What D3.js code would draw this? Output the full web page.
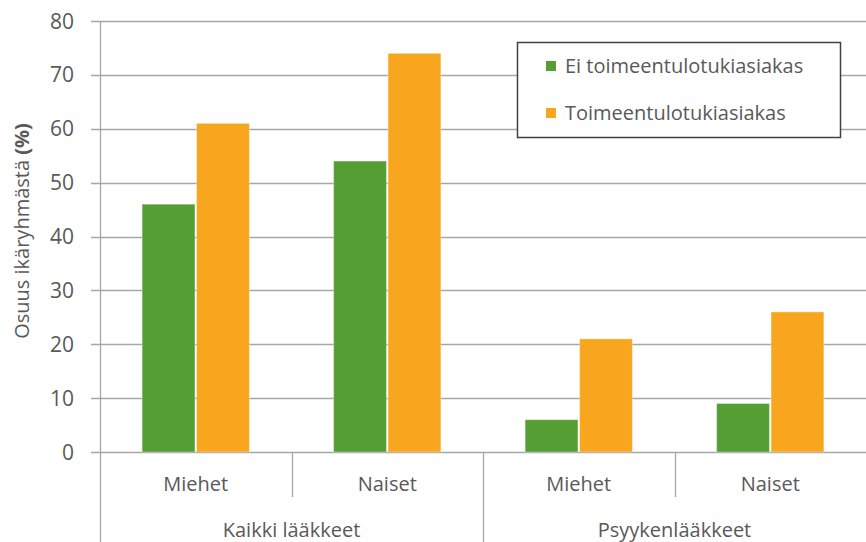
<!DOCTYPE html>
<html>
<head>
<meta charset="utf-8">
<script src="https://cdn.jsdelivr.net/npm/d3@7"></script>
<style>
  body { margin: 0; background: #fff; }
  text { font-family: "Open Sans", sans-serif; fill: #595959; }
</style>
</head>
<body>
<div id="chart"></div>
<script>
// data
var groups = ['Kaikki lääkkeet', 'Psyykenlääkkeet'];
var subgroups = ['Miehet', 'Naiset'];
var series = ['Ei toimeentulotukiasiakas', 'Toimeentulotukiasiakas'];
var eiValues = [46, 54, 6, 9];
var toimValues = [61, 74, 21, 26];
var yTicks = [0, 10, 20, 30, 40, 50, 60, 70, 80];
var colors = ['#559e34', '#f9a61f'];

var width = 866;
var height = 542;
var plotLeft = 100, plotRight = 866, plotTop = 21, plotBottom = 452;

var svg = d3.select('#chart')
  .append('svg')
  .attr('width', width)
  .attr('height', height);

// categories: group|subgroup
var cats = [];
groups.forEach(function(g) {
  subgroups.forEach(function(s) { cats.push(g + '|' + s); });
});

var rows = cats.map(function(c, i) {
  return { key: c, values: [eiValues[i], toimValues[i]] };
});

var x0 = d3.scaleBand()
  .domain(cats)
  .range([plotLeft, plotRight])
  .paddingInner(0.44)
  .paddingOuter(0.22);

var x1 = d3.scaleBand()
  .domain(series)
  .range([0, x0.bandwidth()])
  .paddingInner(0.03);

var y = d3.scaleLinear()
  .domain([0, 80])
  .range([plotBottom, plotTop]);

var step = x0.step();
var catLeft = function(c) { return plotLeft + cats.indexOf(c) * step; };

// gridlines + ticks
var grid = svg.append('g');
grid.selectAll('line')
  .data(yTicks)
  .enter()
  .append('line')
  .attr('x1', plotLeft - 9)
  .attr('x2', plotRight)
  .attr('y1', function(d) { return Math.round(y(d)) + 0.5; })
  .attr('y2', function(d) { return Math.round(y(d)) + 0.5; })
  .attr('stroke', '#a6a6a6')
  .attr('stroke-width', 1.3);

grid.selectAll('text')
  .data(yTicks)
  .enter()
  .append('text')
  .attr('x', 74)
  .attr('y', function(d) { return y(d); })
  .attr('dy', '0.36em')
  .attr('text-anchor', 'end')
  .style('font-size', '21px')
  .text(function(d) { return d; });

// y axis line
svg.append('line')
  .attr('x1', plotLeft + 0.5).attr('x2', plotLeft + 0.5)
  .attr('y1', plotTop).attr('y2', height)
  .attr('stroke', '#a6a6a6')
  .attr('stroke-width', 1.3);

// bars
var g = svg.selectAll('.cat')
  .data(rows)
  .enter()
  .append('g')
  .attr('class', 'cat')
  .attr('transform', function(d) { return 'translate(' + x0(d.key) + ',0)'; });

g.selectAll('rect')
  .data(function(d) {
    return d.values.map(function(v, i) { return { s: series[i], v: v, i: i }; });
  })
  .enter()
  .append('rect')
  .attr('x', function(d) { return x1(d.s); })
  .attr('width', x1.bandwidth())
  .attr('y', function(d) { return y(d.v); })
  .attr('height', function(d) { return plotBottom - y(d.v); })
  .attr('fill', function(d) { return colors[d.i]; })
  .attr('stroke', '#ffffff')
  .attr('stroke-opacity', 0.35)
  .attr('stroke-width', 1);

// multi-level x axis
var ax = svg.append('g');
cats.forEach(function(c, i) {
  if (i === 0) return;
  var xx = Math.round(catLeft(c)) + 0.5;
  ax.append('line')
    .attr('x1', xx).attr('x2', xx)
    .attr('y1', plotBottom)
    .attr('y2', i % 2 === 1 ? 497 : height)
    .attr('stroke', '#a6a6a6').attr('stroke-width', 1.3);
});

ax.selectAll('.sub')
  .data(cats)
  .enter()
  .append('text')
  .attr('class', 'sub')
  .attr('x', function(c) { return catLeft(c) + step / 2; })
  .attr('y', 491)
  .attr('text-anchor', 'middle')
  .style('font-size', '20px')
  .text(function(c) { return c.split('|')[1]; });

ax.selectAll('.grp')
  .data(groups)
  .enter()
  .append('text')
  .attr('class', 'grp')
  .attr('x', function(d, i) { return plotLeft + step * 2 * i + step; })
  .attr('y', 537)
  .attr('text-anchor', 'middle')
  .style('font-size', '20px')
  .text(function(d) { return d; });

// y title
svg.append('text')
  .attr('transform', 'translate(29,' + 231 + ') rotate(-90)')
  .attr('text-anchor', 'middle')
  .style('font-size', '20px')
  .html('Osuus ikäryhmästä <tspan style="font-weight:bold">(%)</tspan>');

// legend
var legend = svg.append('g');
legend.append('rect')
  .attr('x', 517.5).attr('y', 42.5)
  .attr('width', 323).attr('height', 95)
  .attr('fill', '#fff')
  .attr('stroke', '#404040')
  .attr('stroke-width', 1.5);

var li = legend.selectAll('.li')
  .data(series)
  .enter()
  .append('g')
  .attr('transform', function(d, i) { return 'translate(546,' + (66 + i * 47) + ')'; });

li.append('rect')
  .attr('x', 0).attr('y', -5)
  .attr('width', 10).attr('height', 10)
  .attr('fill', function(d, i) { return colors[i]; });

li.append('text')
  .attr('x', 19)
  .attr('dy', '0.36em')
  .style('font-size', '20px')
  .text(function(d) { return d; });
</script>
</body>
</html>
